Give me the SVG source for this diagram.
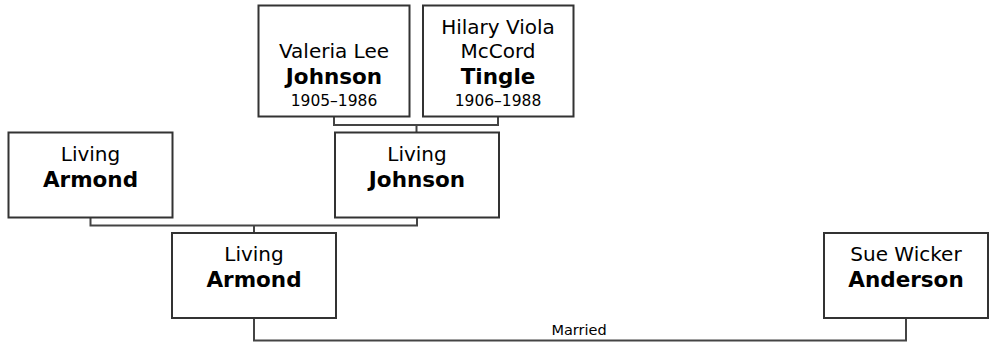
<svg xmlns="http://www.w3.org/2000/svg" width="990" height="343" viewBox="0 0 990 343">
<style>
.box{fill:#fff;stroke:#333;stroke-width:2}
.ln{fill:none;stroke:#444;stroke-width:2}
text{font-family:"DejaVu Sans",Verdana,sans-serif;fill:#000;text-anchor:middle}
.n{font-size:20px}
.b{font-size:21.5px;font-weight:bold}
.d{font-size:15.5px}
.m{font-size:14.5px}
</style>
<rect width="990" height="343" fill="#fff"/>
<g id="connectors">
<polyline class="ln" points="334,116.5 334,125 498,125 498,116.5"/>
<line class="ln" x1="416.5" y1="125" x2="416.5" y2="132.5"/>
<polyline class="ln" points="90.5,217.5 90.5,225.5 417,225.5 417,217.5"/>
<line class="ln" x1="254" y1="225.5" x2="254" y2="233"/>
<polyline class="ln" points="254,318 254,340.5 906,340.5 906,318"/>
<text class="m" x="579" y="335">Married</text>
</g>
<g id="valeria">
<rect class="box" x="258.5" y="5.5" width="151" height="111"/>
<text class="n" x="334" y="58">Valeria Lee</text>
<text class="b" x="334" y="84">Johnson</text>
<text class="d" x="334" y="106">1905–1986</text>
</g>
<g id="hilary">
<rect class="box" x="423" y="5.5" width="150.5" height="111"/>
<text class="n" x="498" y="34">Hilary Viola</text>
<text class="n" x="498" y="58">McCord</text>
<text class="b" x="498" y="84">Tingle</text>
<text class="d" x="498" y="106">1906–1988</text>
</g>
<g id="living-armond-parent">
<rect class="box" x="8.5" y="132.5" width="164" height="85"/>
<text class="n" x="90.5" y="161">Living</text>
<text class="b" x="90.5" y="187">Armond</text>
</g>
<g id="living-johnson">
<rect class="box" x="335" y="132.5" width="164" height="85"/>
<text class="n" x="417" y="161">Living</text>
<text class="b" x="417" y="187">Johnson</text>
</g>
<g id="living-armond">
<rect class="box" x="172" y="233" width="164" height="85"/>
<text class="n" x="254" y="261">Living</text>
<text class="b" x="254" y="287">Armond</text>
</g>
<g id="sue">
<rect class="box" x="824" y="233" width="164" height="85"/>
<text class="n" x="906" y="261">Sue Wicker</text>
<text class="b" x="906" y="287">Anderson</text>
</g>
</svg>
